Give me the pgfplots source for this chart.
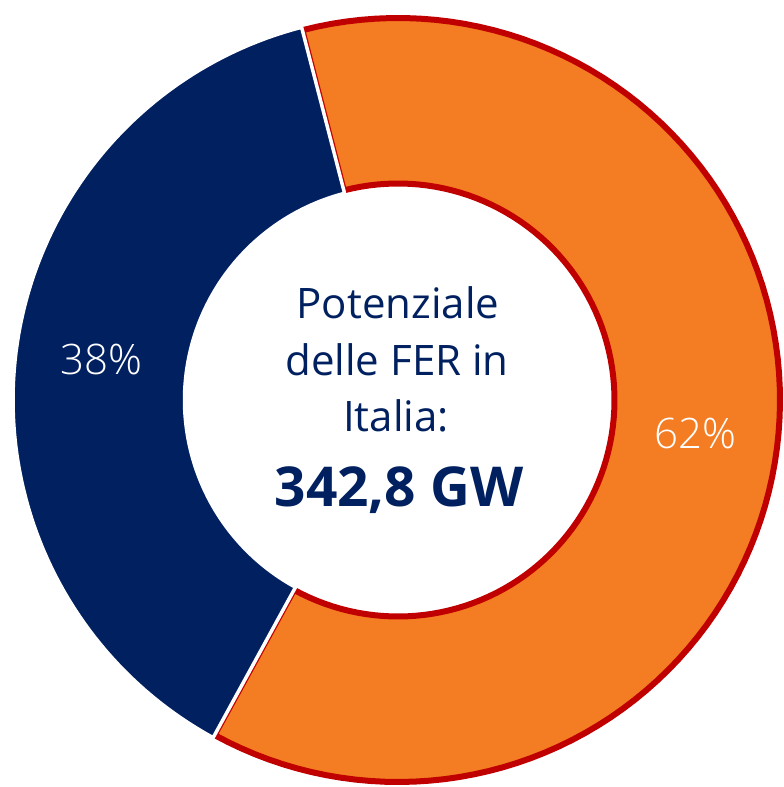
\documentclass[border=0pt]{standalone}
\usepackage{pgfplots}
\pgfplotsset{compat=1.18}
\usepackage{pgfplotstable}
\usepackage{fontspec}
\setmainfont{Open Sans}
\IfFontExistsTF{Open Sans Light}{\newfontfamily\lightfont{Open Sans Light}}{\newfontfamily\lightfont{Lato Light}}
\definecolor{navy}{RGB}{0,32,96}
\definecolor{orng}{RGB}{244,124,34}
\definecolor{bred}{RGB}{192,0,0}
\pgfplotstableread{
label value
blu 38
arancio 62
}\datatable
\pgfplotstablegetelem{0}{value}\of\datatable \let\vA\pgfplotsretval
\pgfplotstablegetelem{1}{value}\of\datatable \let\vB\pgfplotsretval
\pgfmathsetmacro\start{104.5}
\pgfmathsetmacro\spanB{-3.6*\vB}% orange, clockwise
\pgfmathsetmacro\spanA{3.6*\vA}% navy, counterclockwise
\def\cx{398}\def\cy{387}
\begin{document}
\begin{tikzpicture}
\begin{axis}[width=784pt, height=787pt, scale only axis,
  axis line style={draw=none}, ticks=none,
  xmin=0, xmax=784, ymin=0, ymax=787, clip=true]
% orange sector (62%)
\def\Ro{382}\def\Ri{216.5}
\addplot[fill=orng, draw=bred, line width=6pt, line join=round, domain=0:4, samples=401, variable=\t]
 ({\cx + (\Ro - (\Ro-\Ri)*(min(max(\t-1,0),1) - min(max(\t-3,0),1)))*cos(\start + \spanB*(min(\t,1) - min(max(\t-2,0),1)))},
  {\cy + (\Ro - (\Ro-\Ri)*(min(max(\t-1,0),1) - min(max(\t-3,0),1)))*sin(\start + \spanB*(min(\t,1) - min(max(\t-2,0),1)))});
% navy sector (38%)
\addplot[fill=navy, draw=white, line width=3.5pt, line join=miter, domain=0:4, samples=401, variable=\t]
 ({\cx + (385 - (385-213.5)*(min(max(\t-1,0),1) - min(max(\t-3,0),1)))*cos(\start + \spanA*(min(\t,1) - min(max(\t-2,0),1)))},
  {\cy + (385 - (385-213.5)*(min(max(\t-1,0),1) - min(max(\t-3,0),1)))*sin(\start + \spanA*(min(\t,1) - min(max(\t-2,0),1)))});
% percentage labels
\node[anchor=base, inner sep=0pt, text=white, font=\lightfont\fontsize{42}{46}\selectfont] at (axis cs:101,412) {\vA\%};
\node[anchor=base, inner sep=0pt, text=white, font=\lightfont\fontsize{42}{46}\selectfont] at (axis cs:695,338) {\vB\%};
% centre text
\node[anchor=base, inner sep=0pt, text=navy, font=\fontsize{42}{48}\selectfont] at (axis cs:398,468) {Potenziale};
\node[anchor=base, inner sep=0pt, text=navy, font=\fontsize{42}{48}\selectfont] at (axis cs:397,411) {delle FER in};
\node[anchor=base, inner sep=0pt, text=navy, font=\fontsize{42}{48}\selectfont] at (axis cs:396,355) {Italia:};
\node[anchor=base, inner sep=0pt, text=navy, font=\bfseries\fontsize{55}{62}\selectfont] at (axis cs:399,280) {342,8 GW};
\end{axis}
\end{tikzpicture}
\end{document}
